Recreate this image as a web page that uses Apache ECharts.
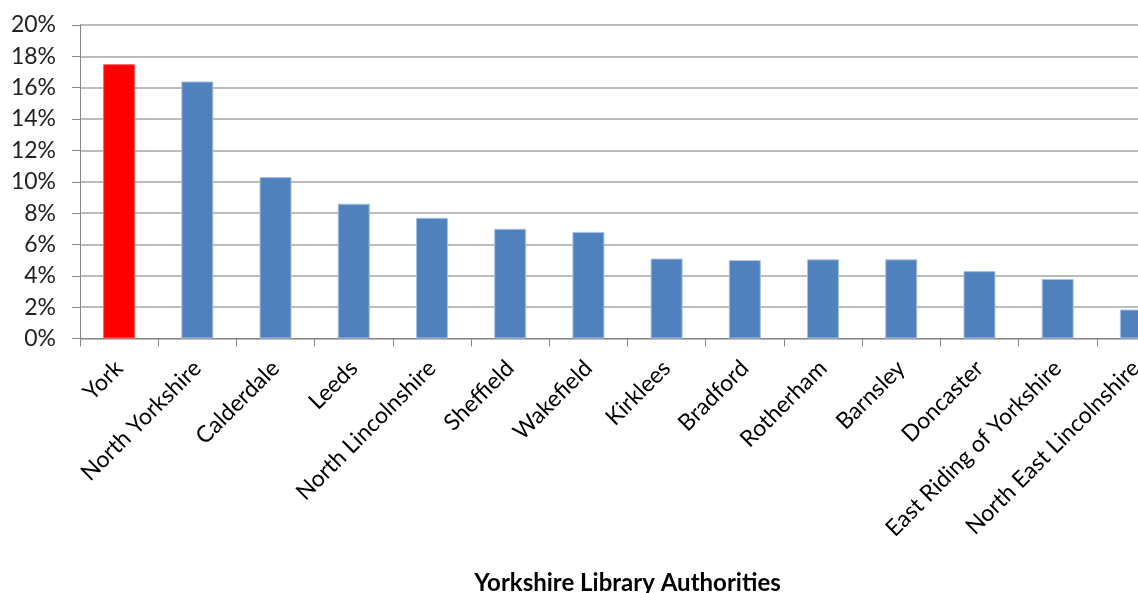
<!DOCTYPE html>
<html>
<head>
<meta charset="utf-8">
<style>
    html, body { margin: 0; padding: 0; background: #fff; }
    #chart { width: 1138px; height: 593px; }
</style>
<script src="https://cdn.jsdelivr.net/npm/echarts@6/dist/echarts.min.js"></script>
</head>
<body>
<div id="chart"></div>
<script>
// 数据
var authorities = ['York', 'North Yorkshire', 'Calderdale', 'Leeds', 'North Lincolnshire',
    'Sheffield', 'Wakefield', 'Kirklees', 'Bradford', 'Rotherham', 'Barnsley',
    'Doncaster', 'East Riding of Yorkshire', 'North East Lincolnshire'];
var percentages = [17.5, 16.4, 10.3, 8.6, 7.7, 7.0, 6.8, 5.1, 5.0, 5.05, 5.05, 4.3, 3.8, 1.85];
var highlighted = 'York';
var yTicks = [0, 2, 4, 6, 8, 10, 12, 14, 16, 18, 20];

var chart = echarts.init(document.getElementById('chart'));

var option = {
    animation: false,
    grid: {
        left: 80,
        top: 25,
        // 最后一根柱子被截掉一半，宽度超出画布
        width: 1095,
        height: 313.5,
        outerBoundsMode: 'none'
    },
    xAxis: {
        type: 'category',
        data: authorities,
        name: 'Yorkshire Library Authorities',
        nameLocation: 'middle',
        nameGap: 233,
        nameTextStyle: {
            fontFamily: 'Lato',
            fontSize: 24,
            fontWeight: 'bold',
            color: '#000'
        },
        axisLine: { lineStyle: { color: '#868686', width: 1 } },
        axisTick: { show: true, length: 8, lineStyle: { color: '#868686' } },
        axisLabel: {
            interval: 0,
            rotate: 45,
            margin: 26,
            fontFamily: 'Lato',
            fontSize: 23,
            color: '#000'
        }
    },
    yAxis: {
        type: 'value',
        min: yTicks[0],
        max: yTicks[yTicks.length - 1],
        interval: 2,
        axisLine: { show: true, lineStyle: { color: '#868686', width: 1 } },
        axisTick: { show: true, length: 8, lineStyle: { color: '#868686' } },
        splitLine: { lineStyle: { color: '#A6A6A6', width: 1.5 } },
        axisLabel: {
            margin: 24,
            fontFamily: 'Lato',
            fontSize: 23,
            color: '#222',
            formatter: '{value}%'
        }
    },
    series: [{
        type: 'bar',
        barWidth: 32,
        data: percentages.map(function (v, i) {
            var isHi = authorities[i] === highlighted;
            return {
                value: v,
                itemStyle: {
                    color: isHi ? '#FF0000' : '#4F81BD',
                    borderColor: isHi ? '#FF6060' : '#A9C2E2',
                    borderWidth: 1
                }
            };
        })
    }]
};

chart.setOption(option);
</script>
</body>
</html>
